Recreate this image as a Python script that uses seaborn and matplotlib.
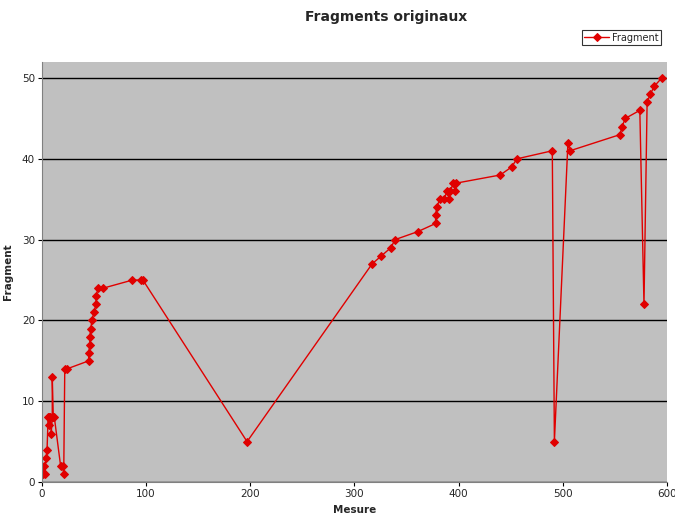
import pandas as pd
import matplotlib.pyplot as plt
import seaborn as sns

# values
mesure = [1, 2, 3, 4, 5, 6, 7, 7, 8, 9, 10, 10, 11, 12, 18, 20, 21, 22, 24,
          45, 45, 46, 46, 47, 48, 50, 52, 52, 54, 59, 87, 95, 97, 197,
          317, 326, 335, 339, 361, 378, 378, 379, 382, 386, 389, 391, 392,
          395, 397, 398, 440, 451, 456, 490, 492, 505, 507, 555, 557, 560,
          574, 578, 581, 584, 588, 595]
fragment = [1, 2, 1, 3, 4, 8, 7, 8, 8, 6, 8, 13, 8, 8, 2, 2, 1, 14, 14,
            15, 16, 17, 18, 19, 20, 21, 22, 23, 24, 24, 25, 25, 25, 5,
            27, 28, 29, 30, 31, 32, 33, 34, 35, 35, 36, 35, 36,
            37, 36, 37, 38, 39, 40, 41, 5, 42, 41, 43, 44, 45,
            46, 22, 47, 48, 49, 50]

df = pd.DataFrame({'Mesure': mesure, 'Fragment': fragment})

sns.set_style('ticks')
plt.rcParams['font.family'] = ['DejaVu Sans']

fig = plt.figure(figsize=(6.75, 5.2), dpi=100)
ax = fig.add_axes([0.062, 0.073, 0.926, 0.808])
ax.set_facecolor('#C0C0C0')

sns.lineplot(data=df, x='Mesure', y='Fragment', sort=False, estimator=None,
             color='#E00000', marker='D', markersize=4, markeredgecolor='#E00000',
             linewidth=1, label='Fragment', ax=ax)

ax.set_xlim(0, 600)
ax.set_ylim(0, 52)
ax.set_xticks(range(0, 601, 100))
ax.set_yticks(range(0, 51, 10))
ax.yaxis.grid(True, color='black', linewidth=1)
ax.set_axisbelow(True)
for side in ['top', 'right']:
    ax.spines[side].set_visible(False)
ax.spines['left'].set_color('#808080')
ax.spines['bottom'].set_color('#808080')
ax.tick_params(labelsize=7.5, length=3, color='black', pad=2)

ax.set_xlabel('Mesure', fontsize=7.5, fontweight='bold', labelpad=4)
ax.set_ylabel('Fragment', fontsize=7.5, fontweight='bold', labelpad=6)
fig.suptitle('Fragments originaux', fontsize=10, fontweight='bold', x=0.572, y=0.98)

leg = ax.legend(loc='upper right', bbox_to_anchor=(0.99, 1.075), fontsize=7,
                frameon=True, fancybox=False, borderpad=0.25, handlelength=2.5,
                handletextpad=0.3, borderaxespad=0)
leg.get_frame().set_edgecolor('black')
leg.get_frame().set_linewidth(0.8)

fig.savefig('out.png', dpi=100)
